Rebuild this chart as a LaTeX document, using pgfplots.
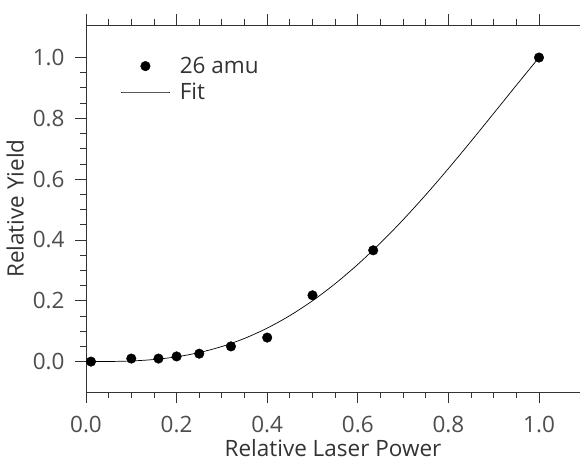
\documentclass[border=0pt]{standalone}
\usepackage{fontspec}
\setmainfont{Open Sans}
\usepackage{pgfplots}
\pgfplotsset{compat=1.18}
\definecolor{axcol}{HTML}{333333}
\definecolor{lblcol}{HTML}{333333}
\definecolor{tkcol}{HTML}{4D4D4D}
\newcommand\fs{\fontsize{22.5bp}{26bp}\selectfont}
\pgfplotsset{
  dotlegend/.style={legend image code/.code={\path[draw=none,fill=none] (0bp,-4bp) rectangle (48bp,4bp); \draw[##1] plot coordinates {(24bp,0bp)};}},
  linelegend/.style={legend image code/.code={\path[draw=none,fill=none] (0bp,-4bp) rectangle (48bp,4bp); \draw[##1] plot coordinates {(0bp,0bp) (48bp,0bp)};}},
}
\begin{document}
\begin{tikzpicture}
\path[use as bounding box] (-86bp,-69bp) rectangle (494bp,392bp);
\begin{axis}[
  anchor=south west, at={(0,0)},
  scale only axis, width=494bp, height=367bp,
  xmin=0, xmax=1.0905, ymin=-0.1, ymax=1.107,
  axis x line=box, axis y line=left,
  axis line style={-, draw=axcol, line width=0.9pt},
  xtick pos=both, xticklabel pos=lower,
  ytick pos=left,
  tick align=outside,
  major tick length=11bp, minor tick length=6bp,
  every tick/.style={draw=axcol, line width=0.9pt},
  xtick={0,0.2,0.4,0.6,0.8,1.0},
  ytick={0,0.2,0.4,0.6,0.8,1.0},
  minor x tick num=3, minor y tick num=3,
  /pgf/number format/.cd, fixed, fixed zerofill, precision=1, assume math mode=true,
  /pgfplots/.cd,
  tick label style={font=\fs, text=tkcol},
  xticklabel style={yshift=-10bp},
  yticklabel style={xshift=-7bp},
  label style={font=\fs, text=lblcol},
  xlabel={Relative Laser Power},
  ylabel={Relative Yield},
  xlabel style={yshift=-1.5bp, inner sep=1bp},
  ylabel style={yshift=2bp},
  clip=false,
  legend style={draw=none, fill=none, at={(axis cs:0.077,1.005)}, anchor=north west,
    font=\fs, text=lblcol, inner sep=0pt, row sep=6bp, column sep=9bp,
    nodes={inner sep=1bp}},
  legend cell align=left,
]
\addplot[only marks, mark=*, mark size=4.8bp, black, dotlegend]
  coordinates {
  (0.011,0.000) (0.100,0.010) (0.160,0.010) (0.200,0.017) (0.250,0.026)
  (0.320,0.050) (0.400,0.079) (0.500,0.218) (0.634,0.366) (1.000,1.000)
  };
\addlegendentry{26 amu}
\addplot[black, line width=0.7pt, no marks, smooth, linelegend] coordinates {
  (0.011,0.00000) (0.05,0.00027) (0.10,0.00208) (0.15,0.00682) (0.20,0.01568)
  (0.25,0.02969) (0.30,0.04968) (0.35,0.07632) (0.40,0.11008) (0.45,0.15127)
  (0.50,0.20000) (0.55,0.25622) (0.60,0.31968) (0.65,0.38997) (0.70,0.46648)
  (0.75,0.54844) (0.80,0.63488) (0.85,0.72467) (0.90,0.81648) (0.95,0.90882)
  (1.00,1.00000)
  };
\addlegendentry{Fit}
\end{axis}
\end{tikzpicture}
\end{document}
